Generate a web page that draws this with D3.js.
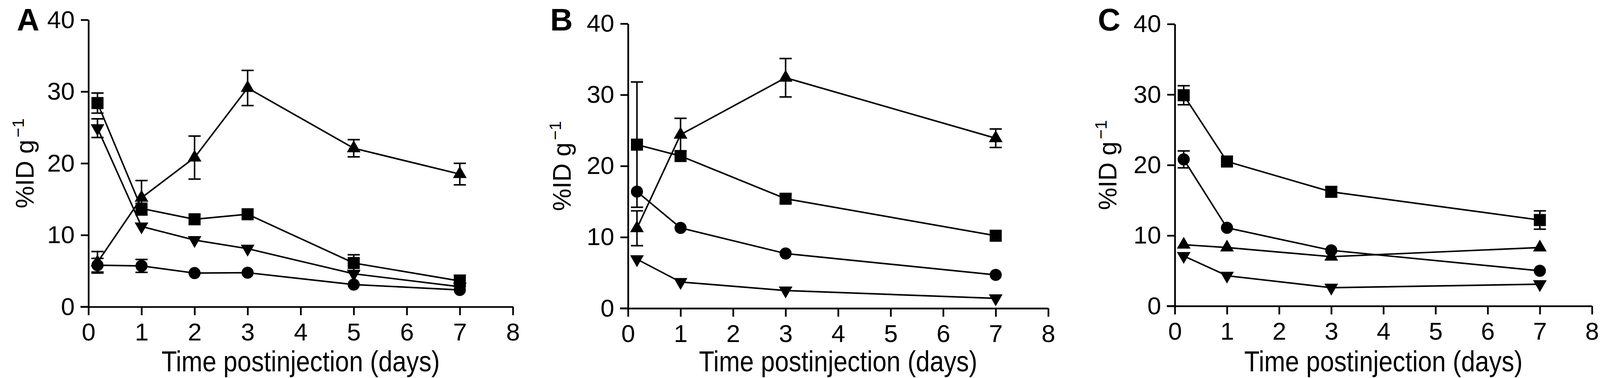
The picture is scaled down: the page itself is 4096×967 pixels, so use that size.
<!DOCTYPE html>
<html>
<head>
<meta charset="utf-8">
<script src="https://cdn.jsdelivr.net/npm/d3@7"></script>
<style>
    html, body { margin: 0; padding: 0; background: #fff; overflow: hidden; }
    svg { display: block; }
    text { font-family: 'Liberation Sans', Arial, Helvetica, sans-serif; fill: #000; }
</style>
</head>
<body>
<div id="chart"></div>
<script>
// values (%ID per gram vs days)
const PANELS = ['A', 'B', 'C'];
const TIMES_A = [0.17, 1, 2, 3, 5, 7];
const TIMES_BC = [0.17, 1, 3, 7];
const X_TICKS = [0, 1, 2, 3, 4, 5, 6, 7, 8];
const Y_TICKS = [0, 10, 20, 30, 40];

const A_SQUARE = [28.4, 13.7, 12.2, 12.9, 6.1, 3.6];
const A_SQUARE_ERR = [1.4, 0, 0, 0, 1.15, 0.8];
const A_CIRCLE = [5.8, 5.7, 4.7, 4.75, 3.1, 2.35];
const A_CIRCLE_ERR = [0.95, 0.9, 0, 0, 0, 0];
const A_TRIUP = [6.2, 15.2, 20.8, 30.5, 22.1, 18.5];
const A_TRIUP_ERR = [1.5, 2.4, 3.0, 2.45, 1.2, 1.5];
const A_TRIDOWN = [24.9, 11.2, 9.3, 8.1, 4.6, 2.8];
const A_TRIDOWN_ERR = [1.3, 0, 0, 0, 0, 0];

const B_SQUARE = [23.0, 21.4, 15.4, 10.2];
const B_SQUARE_ERR = [8.8, 0, 0.6, 0];
const B_CIRCLE = [16.4, 11.3, 7.7, 4.7];
const B_CIRCLE_ERR = [0, 0, 0, 0];
const B_TRIUP = [11.25, 24.4, 32.4, 23.9];
const B_TRIUP_ERR = [2.45, 2.3, 2.7, 1.3];
const B_TRIDOWN = [6.9, 3.7, 2.5, 1.4];
const B_TRIDOWN_ERR = [0, 0, 0, 0];

const C_SQUARE = [29.9, 20.5, 16.2, 12.2];
const C_SQUARE_ERR = [1.35, 0, 0.7, 1.3];
const C_CIRCLE = [20.8, 11.1, 7.9, 5.0];
const C_CIRCLE_ERR = [1.2, 0, 0, 0];
const C_TRIUP = [8.7, 8.3, 7.0, 8.3];
const C_TRIUP_ERR = [0, 0, 0, 0];
const C_TRIDOWN = [7.1, 4.3, 2.6, 3.1];
const C_TRIDOWN_ERR = [0, 0, 0, 0];

const X_TITLE = 'Time postinjection (days)';

// layout in reference pixels (4196 x 991), scaled down to the window at the end
const REF_W = 4196;
const W = 4096;
const H = 967;
const K = W / REF_W;

const LAYOUT = {
    A: { x0: 232, x1: 1345, y0: 804, y1: 52, labelX: 44, titleX: 88 },
    B: { x0: 1647, x1: 2749, y0: 808, y1: 62, labelX: 1443, titleX: 1497 },
    C: { x0: 3081, x1: 4175, y0: 802, y1: 63, labelX: 2879, titleX: 2928 }
};

function makeSeries(times, sq, sqE, ci, ciE, tu, tuE, td, tdE) {
    const zip = (v, e) => times.map((t, i) => ({ t, v: v[i], e: e[i] }));
    return [
        { shape: 'square', points: zip(sq, sqE) },
        { shape: 'circle', points: zip(ci, ciE) },
        { shape: 'triUp', points: zip(tu, tuE) },
        { shape: 'triDown', points: zip(td, tdE) }
    ];
}

const SERIES = {
    A: makeSeries(TIMES_A, A_SQUARE, A_SQUARE_ERR, A_CIRCLE, A_CIRCLE_ERR, A_TRIUP, A_TRIUP_ERR, A_TRIDOWN, A_TRIDOWN_ERR),
    B: makeSeries(TIMES_BC, B_SQUARE, B_SQUARE_ERR, B_CIRCLE, B_CIRCLE_ERR, B_TRIUP, B_TRIUP_ERR, B_TRIDOWN, B_TRIDOWN_ERR),
    C: makeSeries(TIMES_BC, C_SQUARE, C_SQUARE_ERR, C_CIRCLE, C_CIRCLE_ERR, C_TRIUP, C_TRIUP_ERR, C_TRIDOWN, C_TRIDOWN_ERR)
};

const SYMBOLS = {
    square: d3.symbol().type(d3.symbolSquare).size(1000),
    circle: d3.symbol().type(d3.symbolCircle).size(790),
    triUp: d3.symbol().type(d3.symbolTriangle).size(560),
    triDown: d3.symbol().type(d3.symbolTriangle).size(560)
};

const svg = d3.select('#chart').append('svg').attr('width', W).attr('height', H);
const root = svg.append('g').attr('transform', `scale(${K})`);

function drawPanel(name) {
    const L = LAYOUT[name];
    const x = d3.scaleLinear().domain([0, 8]).range([L.x0, L.x1]);
    const y = d3.scaleLinear().domain([0, 40]).range([L.y0, L.y1]);
    const g = root.append('g');

    // axes
    const yAxis = d3.axisLeft(y).tickValues(Y_TICKS).tickSize(20).tickSizeOuter(0).tickPadding(16);
    const xAxis = d3.axisBottom(x).tickValues(X_TICKS).tickSize(22).tickSizeOuter(0);

    const gy = g.append('g').attr('transform', `translate(${L.x0},0)`).call(yAxis);
    const gx = g.append('g').attr('transform', `translate(0,${L.y0})`).call(xAxis);

    [gy, gx].forEach((ax) => {
        ax.attr('font-family', null).attr('font-size', null);
        ax.select('.domain').attr('stroke', '#000').attr('stroke-width', 4.5);
        ax.selectAll('.tick line').attr('stroke', '#000').attr('stroke-width', 4.5);
        ax.selectAll('.tick text').style('font-size', '65px').attr('fill', '#000');
    });
    gx.selectAll('.tick text').attr('y', 88).attr('dy', null);

    // extend x axis under the 0 tick of the y axis
    g.append('line')
        .attr('x1', L.x0 - 21).attr('x2', L.x0)
        .attr('y1', L.y0).attr('y2', L.y0)
        .attr('stroke', '#000').attr('stroke-width', 4.5);

    // panel letter
    g.append('text')
        .attr('x', L.labelX).attr('y', 80)
        .style('font-size', '82px').style('font-weight', 'bold')
        .text(name);

    // y title
    const cy = (L.y0 + L.y1) / 2;
    const yt = g.append('text')
        .attr('transform', `translate(${L.titleX},${cy}) rotate(-90)`)
        .attr('text-anchor', 'middle')
        .style('font-size', '66px');
    yt.append('tspan').text('%ID g');
    yt.append('tspan').attr('dx', 6).attr('dy', -26).style('font-size', '44px').text('\u22121');

    // x title (condensed face in the original); keep descenders inside the page
    g.append('text')
        .attr('x', (L.x0 + L.x1) / 2).attr('y', Math.min(L.y0 + 171, 973))
        .attr('text-anchor', 'middle')
        .attr('textLength', 730).attr('lengthAdjust', 'spacingAndGlyphs')
        .style('font-size', '76px')
        .text(X_TITLE);

    const line = d3.line().x((d) => x(d.t)).y((d) => y(d.v));

    SERIES[name].forEach((s) => {
        g.append('path')
            .attr('d', line(s.points))
            .attr('fill', 'none')
            .attr('stroke', '#000')
            .attr('stroke-width', 4);
    });

    // error bars
    const cap = 16;
    SERIES[name].forEach((s) => {
        const eg = g.append('g').attr('stroke', '#000').attr('stroke-width', 4);
        s.points.filter((d) => d.e > 0).forEach((d) => {
            const cx = x(d.t);
            const hi = y(d.v + d.e);
            const lo = y(d.v - d.e);
            eg.append('line').attr('x1', cx).attr('x2', cx).attr('y1', hi).attr('y2', lo);
            eg.append('line').attr('x1', cx - cap).attr('x2', cx + cap).attr('y1', hi).attr('y2', hi);
            eg.append('line').attr('x1', cx - cap).attr('x2', cx + cap).attr('y1', lo).attr('y2', lo);
        });
    });

    // markers
    SERIES[name].forEach((s) => {
        g.append('g')
            .selectAll('path')
            .data(s.points)
            .enter()
            .append('path')
            .attr('d', SYMBOLS[s.shape]())
            .attr('fill', '#000')
            .attr('transform', (d) => {
                let tr = `translate(${x(d.t)},${y(d.v)})`;
                if (s.shape === 'triDown') tr += ' rotate(180)';
                return tr;
            });
    });
}

PANELS.forEach(drawPanel);
</script>
</body>
</html>
